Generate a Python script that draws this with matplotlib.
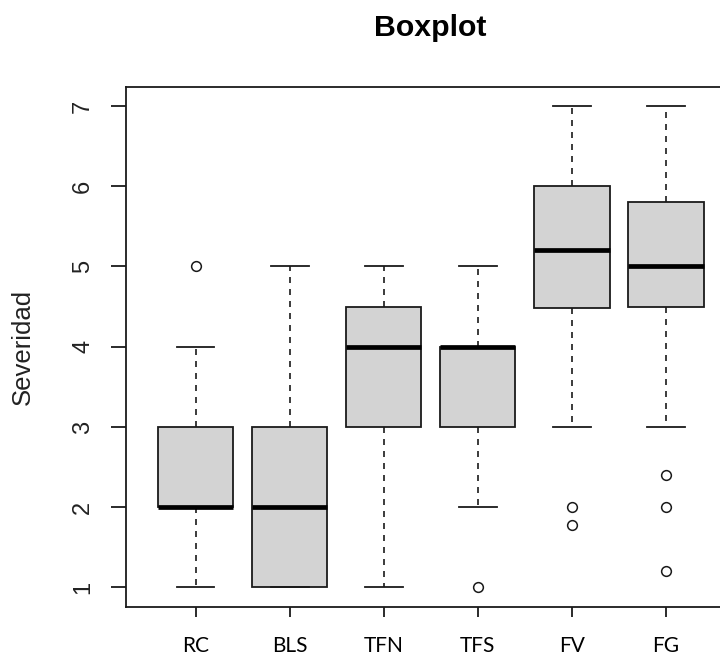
import matplotlib
matplotlib.use("Agg")
import matplotlib.pyplot as plt

categories = ["RC", "BLS", "TFN", "TFS", "FV", "FG"]
whislo = [1, 1, 1, 2, 3, 3]
q1 = [2, 1, 3, 3, 4.48, 4.5]
med = [2, 2, 4, 4, 5.2, 5.0]
q3 = [3, 3, 4.5, 4, 6, 5.8]
whishi = [4, 5, 5, 5, 7, 7]
fliers = [[5], [], [], [1], [2.0, 1.78], [2.4, 2.0, 1.2]]
yticks = [1, 2, 3, 4, 5, 6, 7]

stats = []
for i, c in enumerate(categories):
    stats.append(dict(label=c, whislo=whislo[i], q1=q1[i], med=med[i],
                      q3=q3[i], whishi=whishi[i], fliers=fliers[i]))

fig = plt.figure(figsize=(7.2, 6.56), dpi=100)
W, H = 720, 656
left_px, right_px, top_px, bot_px = 126, 735.6, 86.7, 606.7
ax = fig.add_axes([left_px / W, 1 - bot_px / H, (right_px - left_px) / W, (bot_px - top_px) / H])

lc = "#1a1a1a"
ax.bxp(stats, positions=range(1, len(categories) + 1), widths=0.8,
       patch_artist=True,
       boxprops=dict(facecolor="#d3d3d3", edgecolor=lc, linewidth=1.3),
       medianprops=dict(color="black", linewidth=3.4, solid_capstyle="butt"),
       whiskerprops=dict(color=lc, linewidth=1.2, linestyle=(0, (3.6, 3.6))),
       capprops=dict(color=lc, linewidth=1.3),
       capwidths=0.4,
       flierprops=dict(marker="o", markersize=7, markerfacecolor="none",
                       markeredgecolor=lc, markeredgewidth=1.1))

ax.set_xlim(0.26, 6.74)
ax.set_ylim(0.76, 7.24)
ax.set_yticks(yticks)
ax.set_yticklabels([str(v) for v in yticks], rotation=90, va="center",
                   family="Liberation Sans", fontsize=17, color="#222222")
ax.set_xticks(range(1, len(categories) + 1))
ax.set_xticklabels(categories, family="Lato", fontsize=15)
ax.tick_params(axis="y", length=11, width=1.3, color=lc, pad=12)
ax.tick_params(axis="x", length=7, width=1.3, color=lc, pad=14)
for s in ax.spines.values():
    s.set_linewidth(1.3)
    s.set_color(lc)

ax.set_ylabel("Severidad", family="Liberation Sans", fontsize=18.5, labelpad=27, color="#222222")
fig.text(430 / W, 1 - 28 / H, "Boxplot", ha="center", va="center",
         family="Liberation Sans", fontweight="bold", fontsize=21.8)

fig.savefig("out.png", dpi=100)
